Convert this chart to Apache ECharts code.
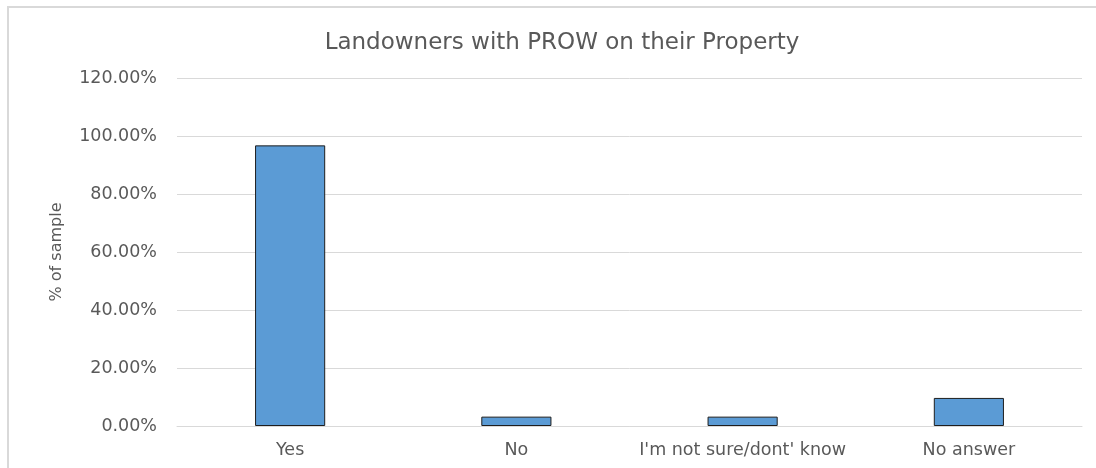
<!DOCTYPE html>
<html>
<head>
<meta charset="utf-8">
<script src="https://cdn.jsdelivr.net/npm/echarts@6/dist/echarts.min.js"></script>
<style>
  html, body { margin: 0; padding: 0; background: #ffffff; }
  #chart { width: 1096px; height: 468px; }
</style>
</head>
<body>
<div id="chart"></div>
<script>
// Survey responses: share of landowners reporting a public right of way
const categories = ['Yes', 'No', "I'm not sure/dont' know", 'No answer'];
const shares = [96.77, 3.23, 3.23, 9.68]; // percent of sample
const yTicks = [0, 20, 40, 60, 80, 100, 120];

const chart = echarts.init(document.getElementById('chart'), null, { renderer: 'canvas' });

const textColor = '#595959';
const font = 'DejaVu Sans';

chart.setOption({
  animation: false,
  backgroundColor: '#ffffff',
  title: {
    text: 'Landowners with PROW on their Property',
    left: 557,
    top: 27,
    textAlign: 'center',
    textStyle: { fontFamily: font, fontSize: 23, fontWeight: 'normal', color: textColor }
  },
  graphic: [{
    type: 'rect',
    shape: { x: 8, y: 7, width: 1200, height: 600 },
    style: { fill: 'none', stroke: '#d9d9d9', lineWidth: 2 },
    silent: true
  }],
  grid: { left: 177, right: 14, top: 78, bottom: 42, containLabel: false },
  xAxis: {
    type: 'category',
    data: categories,
    axisLine: { show: true, lineStyle: { color: '#d9d9d9', width: 1 } },
    axisTick: { show: false },
    axisLabel: { fontFamily: font, fontSize: 17.5, color: textColor, margin: 15, interval: 0 }
  },
  yAxis: {
    type: 'value',
    min: yTicks[0],
    max: yTicks[yTicks.length - 1],
    interval: yTicks[1] - yTicks[0],
    name: '% of sample',
    nameLocation: 'middle',
    nameGap: 112,
    nameRotate: 90,
    nameTextStyle: { fontFamily: font, fontSize: 16, color: textColor },
    axisLine: { show: false },
    axisTick: { show: false },
    splitLine: { lineStyle: { color: '#d9d9d9', width: 1 } },
    axisLabel: {
      fontFamily: font, fontSize: 17.5, color: textColor, margin: 20,
      formatter: v => v.toFixed(2) + '%'
    }
  },
  series: [{
    type: 'bar',
    data: shares,
    barWidth: '31%',
    itemStyle: { color: '#5b9bd5', borderColor: '#1e1e1e', borderWidth: 1 }
  }]
});
</script>
</body>
</html>
